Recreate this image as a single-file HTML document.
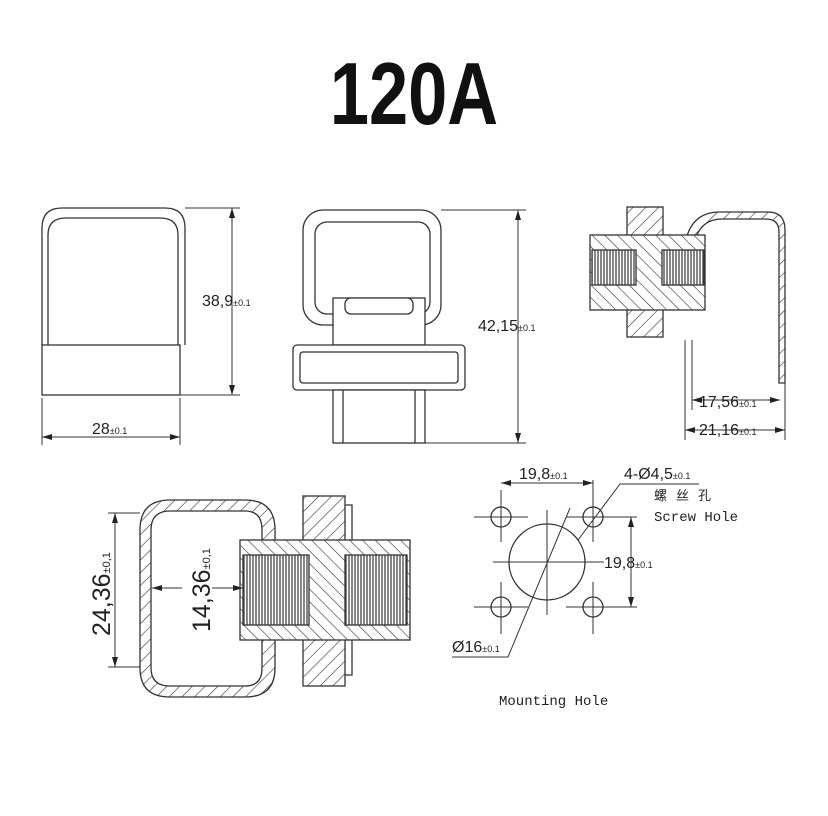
<!DOCTYPE html>
<html><head><meta charset="utf-8"><style>
html,body{margin:0;padding:0;background:#fff}
svg{display:block}
text{font-family:"Liberation Sans",sans-serif;fill:#222}
.m{font-family:"Liberation Mono","Noto Sans CJK SC",monospace}
</style></head><body>
<svg width="828" height="816" viewBox="0 0 828 816" xmlns="http://www.w3.org/2000/svg">
<defs>
<pattern id="h" width="9" height="9" patternUnits="userSpaceOnUse" patternTransform="rotate(45)">
<rect width="9" height="9" fill="#fff"/><line x1="0" y1="0" x2="0" y2="9" stroke="#333" stroke-width="1.2"/></pattern>
<pattern id="h2" width="9" height="9" patternUnits="userSpaceOnUse" patternTransform="rotate(-45)">
<rect width="9" height="9" fill="#fff"/><line x1="0" y1="0" x2="0" y2="9" stroke="#333" stroke-width="1.2"/></pattern>
<pattern id="th" width="3" height="10" patternUnits="userSpaceOnUse">
<rect width="3" height="10" fill="#fff"/><line x1="1" y1="0" x2="1" y2="10" stroke="#444" stroke-width="1.3"/></pattern>
<marker id="a" markerWidth="10" markerHeight="6" refX="10" refY="3" orient="auto-start-reverse" markerUnits="userSpaceOnUse"><path d="M0,0L10,3L0,6z" fill="#222"/></marker>
</defs>

<text x="414" y="124" text-anchor="middle" font-size="88" font-weight="bold" transform="translate(414 0) scale(0.8 1) translate(-414 0)" style="fill:#111">120A</text>

<g fill="none" stroke="#333" stroke-width="1.3">
<!-- view 1 -->
<path d="M42,345 V228 Q42,208 62,208 H165 Q185,208 185,228 V345"/>
<path d="M48,345 V235 Q48,218 66,218 H160 Q178,218 178,235 V345"/>
<rect x="42" y="345" width="138" height="50"/>
<path d="M185,208 H240 M180,395 H240 M42,398 V445 M180,398 V445" stroke-width="1"/>
<line x1="232" y1="208" x2="232" y2="395" stroke-width="1" marker-start="url(#a)" marker-end="url(#a)"/>
<line x1="42" y1="437" x2="180" y2="437" stroke-width="1" marker-start="url(#a)" marker-end="url(#a)"/>

<!-- view 2 -->
<rect x="303" y="210" width="138" height="115" rx="20"/>
<rect x="315" y="222" width="115" height="92" rx="12"/>
<rect x="333" y="298" width="92" height="47" fill="#fff"/>
<rect x="345" y="298" width="68" height="16" rx="6" fill="#fff"/>
<rect x="293" y="345" width="172" height="45" rx="4" fill="#fff"/>
<rect x="300" y="352" width="158" height="31" rx="3"/>
<rect x="333" y="390" width="92" height="53" fill="#fff"/>
<path d="M343,390 V443 M415,390 V443"/>
<path d="M441,210 H526 M425,443 H526" stroke-width="1"/>
<line x1="518" y1="210" x2="518" y2="443" stroke-width="1" marker-start="url(#a)" marker-end="url(#a)"/>

<!-- view 3 -->
<path d="M685,245 Q690,212 720,212 H768 Q785,212 785,230 V383 H779 V232 Q779,219 766,219 H722 Q697,219 693,250z" fill="url(#h)"/>
<path d="M685,340 V440 M692,340 V410 M785,383 V440" stroke-width="1"/>
<rect x="627" y="207" width="36" height="130" fill="url(#h)"/>
<rect x="590" y="235" width="115" height="75" fill="url(#h2)"/>
<rect x="592" y="250" width="44" height="35" fill="url(#th)"/>
<rect x="662" y="250" width="42" height="35" fill="url(#th)"/>
<line x1="692" y1="400" x2="780" y2="400" stroke-width="1" marker-start="url(#a)" marker-end="url(#a)"/>
<line x1="685" y1="430" x2="785" y2="430" stroke-width="1" marker-start="url(#a)" marker-end="url(#a)"/>

<!-- view 4 -->
<path fill-rule="evenodd" fill="url(#h)" d="M170,500 H245 Q275,500 275,530 V545 H262 V530 Q262,511 245,511 H170 Q151,511 151,530 V668 Q151,686 170,686 H245 Q262,686 262,668 V635 H275 V668 Q275,697 245,697 H170 Q140,697 140,668 V530 Q140,500 170,500z"/>
<rect x="303" y="496" width="42" height="190" fill="url(#h)"/>
<path d="M345,505 H352 V675 H345" />
<rect x="240" y="540" width="170" height="100" fill="url(#h2)"/>
<rect x="243" y="555" width="66" height="70" fill="url(#th)"/>
<rect x="345" y="555" width="62" height="70" fill="url(#th)"/>
<path d="M140,513 H108 M140,667 H108" stroke-width="1"/>
<line x1="115" y1="513" x2="115" y2="667" stroke-width="1" marker-start="url(#a)" marker-end="url(#a)"/>
<line x1="152" y1="588" x2="182" y2="588" stroke-width="1" marker-start="url(#a)"/>
<line x1="212" y1="588" x2="243" y2="588" stroke-width="1" marker-end="url(#a)"/>

<!-- view 5 -->
<circle cx="547" cy="562" r="38"/>
<circle cx="501" cy="517" r="10"/><circle cx="593" cy="517" r="10"/>
<circle cx="501" cy="607" r="10"/><circle cx="593" cy="607" r="10"/>
<g stroke-width="1">
<path d="M474,517 H528 M566,517 H637 M474,607 H528 M566,607 H637 M493,562 H604"/>
<path d="M501,490 V542 M593,480 V542 M501,582 V634 M593,582 V634 M547,510 V615"/>
<line x1="501" y1="483" x2="593" y2="483" marker-start="url(#a)" marker-end="url(#a)"/>
<line x1="631" y1="517" x2="631" y2="607" marker-start="url(#a)" marker-end="url(#a)"/>
<path d="M699,484 H620 L578,540"/>
<path d="M452,657 H508 L570,508"/>
</g>
</g>

<g font-size="16">
<text x="202" y="306">38,9<tspan font-size="9">±0.1</tspan></text>
<text x="92" y="434">28<tspan font-size="9">±0.1</tspan></text>
<text x="478" y="331">42,15<tspan font-size="9">±0.1</tspan></text>
<text x="699" y="407">17,56<tspan font-size="9">±0.1</tspan></text>
<text x="699" y="435">21,16<tspan font-size="9">±0.1</tspan></text>
<text x="519" y="479">19,8<tspan font-size="9">±0.1</tspan></text>
<text x="624" y="479">4-Ø4,5<tspan font-size="9">±0.1</tspan></text>
<text x="604" y="568">19,8<tspan font-size="9">±0.1</tspan></text>
<text x="452" y="652">Ø16<tspan font-size="9">±0.1</tspan></text>
</g>
<text transform="translate(110 636) rotate(-90)" font-size="25">24,36<tspan font-size="11">±0,1</tspan></text>
<text transform="translate(210 632) rotate(-90)" font-size="25">14,36<tspan font-size="11">±0,1</tspan></text>
<text class="m" x="654" y="500" font-size="13" letter-spacing="9">螺丝孔</text>
<text class="m" x="654" y="521" font-size="14">Screw Hole</text>
<text class="m" x="499" y="705" font-size="14">Mounting  Hole</text>
</svg>
</body></html>
